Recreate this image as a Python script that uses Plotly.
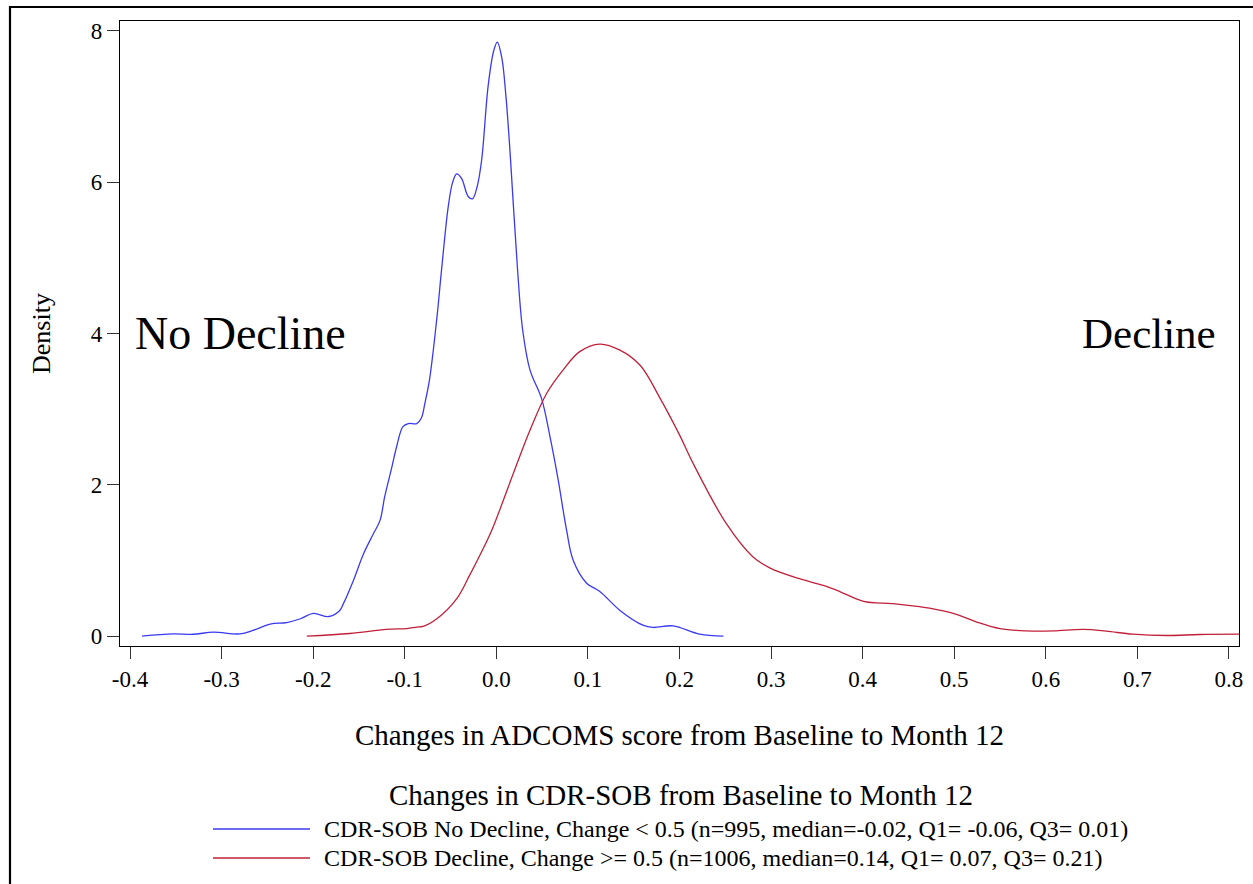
import plotly.graph_objects as go

# ---- data ----
blue_x = [-0.387, -0.353, -0.331, -0.309, -0.28, -0.265, -0.247, -0.229, -0.214, -0.2,
          -0.183, -0.171, -0.167, -0.156, -0.145, -0.134, -0.127, -0.122, -0.114, -0.109,
          -0.102, -0.096, -0.087, -0.082, -0.078, -0.073, -0.065, -0.0597, -0.0525, -0.0477,
          -0.0433, -0.038, -0.0307, -0.026, -0.021, -0.016, -0.009, -0.003, 0.001, 0.006,
          0.0105, 0.015, 0.023, 0.0287, 0.0367, 0.0494, 0.0585, 0.0676, 0.0767, 0.084,
          0.0986, 0.113, 0.135, 0.160, 0.171, 0.193, 0.222, 0.248]
blue_y = [0.0, 0.03, 0.025, 0.053, 0.03, 0.08, 0.16, 0.18, 0.23, 0.30,
          0.26, 0.34, 0.43, 0.74, 1.09, 1.36, 1.53, 1.84, 2.24, 2.50,
          2.77, 2.81, 2.81, 2.88, 3.08, 3.39, 4.2, 4.86, 5.68, 6.0,
          6.11, 6.05, 5.81, 5.78, 5.94, 6.3, 7.27, 7.73, 7.85, 7.64,
          7.13, 6.39, 4.87, 4.05, 3.52, 3.14, 2.64, 2.06, 1.40, 1.0,
          0.70, 0.59, 0.34, 0.145, 0.115, 0.136, 0.026, 0.0]

red_x = [-0.207, -0.16, -0.12, -0.098, -0.087, -0.08, -0.065, -0.043, -0.029, -0.018,
         -0.005, 0.0185, 0.0367, 0.055, 0.073, 0.091, 0.113, 0.135, 0.157, 0.179,
         0.200, 0.215, 0.251, 0.280, 0.299, 0.331, 0.357, 0.375, 0.401, 0.433,
         0.462, 0.473, 0.499, 0.524, 0.55, 0.579, 0.608, 0.641, 0.666, 0.695,
         0.732, 0.768, 0.813]
red_y = [0.0, 0.035, 0.09, 0.10, 0.12, 0.13, 0.23, 0.50, 0.81, 1.07,
         1.40, 2.15, 2.72, 3.21, 3.52, 3.76, 3.86, 3.78, 3.58, 3.14,
         2.66, 2.28, 1.49, 1.05, 0.90, 0.76, 0.67, 0.59, 0.46, 0.43,
         0.39, 0.37, 0.30, 0.19, 0.10, 0.07, 0.07, 0.089, 0.066, 0.026,
         0.009, 0.022, 0.026]

x_ticks = [-0.4, -0.3, -0.2, -0.1, 0.0, 0.1, 0.2, 0.3, 0.4, 0.5, 0.6, 0.7, 0.8]
x_tick_labels = ["-0.4", "-0.3", "-0.2", "-0.1", "0.0", "0.1", "0.2", "0.3",
                 "0.4", "0.5", "0.6", "0.7", "0.8"]
y_ticks = [0, 2, 4, 6, 8]
y_tick_labels = ["0", "2", "4", "6", "8"]

series_names = ["CDR-SOB No Decline, Change < 0.5 (n=995, median=-0.02, Q1= -0.06, Q3= 0.01)",
                "CDR-SOB Decline, Change >= 0.5 (n=1006, median=0.14, Q1= 0.07, Q3= 0.21)"]
series_colors = ["#3a3af0", "#c0203a"]
x_title = "Changes in ADCOMS score from Baseline to Month 12"
y_title = "Density"
legend_title = "Changes in CDR-SOB from Baseline to Month 12"

FONT = "Liberation Serif, Times New Roman, serif"

W, H = 1253, 884
L, T, R, B = 120, 21, 1239, 646
PW, PH = R - L, B - T


def px_x(p):  # page px -> paper x
    return (p - L) / PW


def px_y(p):  # page px -> paper y
    return (B - p) / PH


fig = go.Figure()
for xs, ys, nm, col in [(blue_x, blue_y, series_names[0], series_colors[0]),
                        (red_x, red_y, series_names[1], series_colors[1])]:
    fig.add_trace(go.Scatter(x=xs, y=ys, mode="lines", name=nm, showlegend=False,
                             line=dict(color=col, width=1.3, shape="spline", smoothing=1.0)))

# legend drawn as a key below the plot (title, sample lines, labels)
legend_rows_px = [829, 858]
annotations = [
    dict(text="No Decline", x=-0.397, y=4.0, xref="x", yref="y",
         xanchor="left", yanchor="middle", showarrow=False, font=dict(size=46)),
    dict(text="Decline", x=0.788, y=4.0, xref="x", yref="y",
         xanchor="right", yanchor="middle", showarrow=False, font=dict(size=43)),
    dict(text=legend_title, x=px_x(681), y=px_y(795), xref="paper", yref="paper",
         xanchor="center", yanchor="middle", showarrow=False, font=dict(size=29)),
]
shapes = [
    dict(type="rect", xref="paper", yref="paper",
         x0=px_x(10), x1=px_x(1270), y0=px_y(900), y1=px_y(7),
         line=dict(color="black", width=2.2), fillcolor="rgba(0,0,0,0)", layer="below"),
]
for nm, col, ry in zip(series_names, series_colors, legend_rows_px):
    annotations.append(dict(text=nm, x=px_x(322), y=px_y(ry), xref="paper", yref="paper",
                            xanchor="left", yanchor="middle", showarrow=False,
                            font=dict(size=24)))
    shapes.append(dict(type="line", xref="paper", yref="paper",
                       x0=px_x(213), x1=px_x(310), y0=px_y(ry), y1=px_y(ry),
                       line=dict(color=col, width=1.3)))

fig.update_layout(
    width=W, height=H,
    margin=dict(l=L, r=W - R, t=T, b=H - B, pad=0),
    paper_bgcolor="white", plot_bgcolor="white",
    font=dict(family=FONT, color="black", size=22),
    showlegend=False,
    xaxis=dict(
        range=[-0.411, 0.811], tickvals=x_ticks, ticktext=x_tick_labels,
        showline=True, linecolor="black", linewidth=1.2, mirror=True,
        ticks="outside", ticklen=12, tickcolor="#333", tickwidth=1.2,
        showgrid=False, zeroline=False, automargin=False,
        tickfont=dict(size=23),
        title=dict(text=x_title, font=dict(size=29), standoff=33),
    ),
    yaxis=dict(
        range=[-0.13, 8.13], tickvals=y_ticks, ticktext=y_tick_labels,
        showline=True, linecolor="black", linewidth=1.2, mirror=True,
        ticks="outside", ticklen=12, tickcolor="#333", tickwidth=1.2,
        showgrid=False, zeroline=False, automargin=False,
        tickfont=dict(size=23),
        title=dict(text=y_title, font=dict(size=26), standoff=32),
    ),
    annotations=annotations,
    shapes=shapes,
)

fig.write_html("out.html", config={"displayModeBar": False},
               post_script="document.body.style.margin='0';document.body.style.overflow='hidden';")
